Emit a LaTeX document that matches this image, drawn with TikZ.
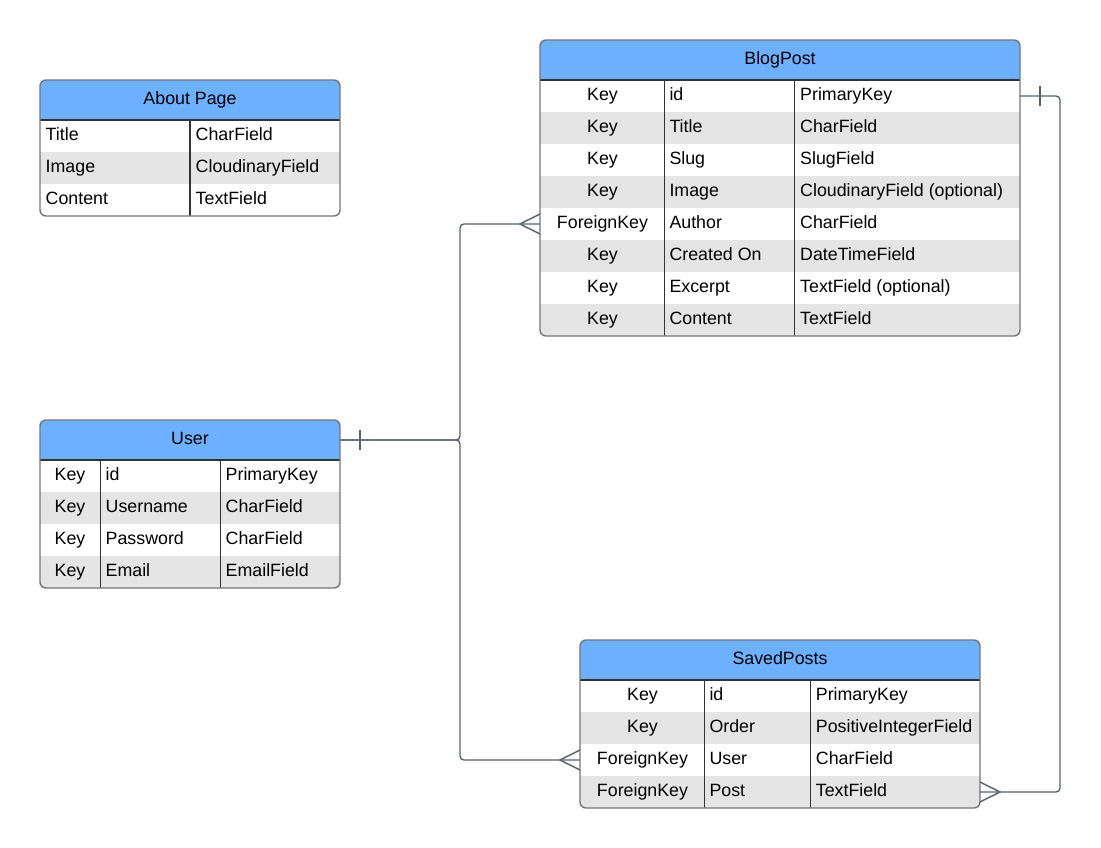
\documentclass[tikz,border=0pt]{standalone}
\usepackage{fontspec}
\setmainfont{Liberation Sans}
\usetikzlibrary{calc}
\definecolor{hdrblue}{RGB}{108,176,255}
\definecolor{rowgrey}{RGB}{229,229,229}
\definecolor{outlc}{RGB}{118,118,118}
\definecolor{divc}{RGB}{51,51,51}
\definecolor{connc}{RGB}{90,97,110}
\newcommand\erfont{\fontsize{17.8}{21}\selectfont}
\tikzset{
  hdrbox/.style={anchor=north west, fill=hdrblue, minimum height=40pt, inner sep=0pt, outer sep=0pt, font=\erfont, text height=8.8pt, text depth=0pt},
  rowbox/.style={anchor=north west, minimum height=32pt, inner sep=0pt, outer sep=0pt, draw=none},
  outl/.style={draw=outlc, line width=1.4pt},
  coldiv/.style={draw=divc, line width=1.2pt},
  cell/.style={anchor=base west, inner sep=0pt, font=\erfont},
  ccell/.style={anchor=base, inner sep=0pt, font=\erfont},
  conn/.style={draw=connc, line width=1.4pt, rounded corners=4pt},
  tick/.style={draw=connc, line width=1.4pt},
}
\newcommand\ertable[6]{%
  \begin{scope}
    \clip[rounded corners=6pt] (#2,#3) rectangle ++(#4,40+32*#5);
    \fill[white] (#2,#3) rectangle ++(#4,40+32*#5);
    \node[hdrbox, minimum width=#4pt] (#1) at (#2,#3) {#6};
    \foreach \r in {1,...,#5}{
      \pgfmathtruncatemacro\ry{#3+40+32*(\r-1)}
      \ifodd\r \def\rc{white}\else\def\rc{rowgrey}\fi
      \node[rowbox, minimum width=#4pt, fill=\rc] (#1-\r) at (#2,\ry) {};
    }
  \end{scope}
  \draw[divc, line width=1.2pt] (#1.south west) -- (#1.south east);
}
\newcommand\erframe[5]{%
  \draw[outl, rounded corners=6pt] (#2,#3) rectangle ++(#4,40+32*#5);
}
\begin{document}
\begin{tikzpicture}[x=1pt,y=-1pt]
\useasboundingbox (0,0) rectangle (1101,848);
\fill[white] (0,0) rectangle (1101,848);

% About Page
\ertable{ab}{40}{80}{300}{3}{About Page}
\draw[coldiv] (190,120) -- (190,216);
\foreach \r/\a/\b in {1/Title/CharField,2/Image/CloudinaryField,3/Content/TextField}{
  \node[cell] at ($(ab-\r.west)+(5.5,4.4)$) {\a};
  \node[cell] at ($(ab-\r.west)+(155.5,4.4)$) {\b};
}
\erframe{ab}{40}{80}{300}{3}

% BlogPost
\ertable{bp}{540}{40}{480}{8}{BlogPost}
\draw[coldiv] (664.5,80) -- (664.5,336);
\draw[coldiv] (794.5,80) -- (794.5,336);
\foreach \r/\a/\b/\c in {1/Key/id/PrimaryKey,2/Key/Title/CharField,3/Key/Slug/SlugField,4/Key/Image/CloudinaryField (optional),5/ForeignKey/Author/CharField,6/Key/Created On/DateTimeField,7/Key/Excerpt/TextField (optional),8/Key/Content/TextField}{
  \node[ccell] at ($(bp-\r.west)+(62.5,4.4)$) {\a};
  \node[cell] at ($(bp-\r.west)+(129.3,4.4)$) {\b};
  \node[cell] at ($(bp-\r.west)+(260,4.4)$) {\c};
}
\erframe{bp}{540}{40}{480}{8}

% User
\ertable{user}{40}{420}{300}{4}{User}
\draw[coldiv] (100.5,460) -- (100.5,588);
\draw[coldiv] (220.5,460) -- (220.5,588);
\foreach \r/\a/\b/\c in {1/Key/id/PrimaryKey,2/Key/Username/CharField,3/Key/Password/CharField,4/Key/Email/EmailField}{
  \node[ccell] at ($(user-\r.west)+(30,4.4)$) {\a};
  \node[cell] at ($(user-\r.west)+(65.5,4.4)$) {\b};
  \node[cell] at ($(user-\r.west)+(185.5,4.4)$) {\c};
}
\erframe{user}{40}{420}{300}{4}

% SavedPosts
\ertable{sp}{580}{640}{400}{4}{SavedPosts}
\draw[coldiv] (704.5,680) -- (704.5,808);
\draw[coldiv] (810.5,680) -- (810.5,808);
\foreach \r/\a/\b/\c in {1/Key/id/PrimaryKey,2/Key/Order/PositiveIntegerField,3/ForeignKey/User/CharField,4/ForeignKey/Post/TextField}{
  \node[ccell] at ($(sp-\r.west)+(62.5,4.4)$) {\a};
  \node[cell] at ($(sp-\r.west)+(129.3,4.4)$) {\b};
  \node[cell] at ($(sp-\r.west)+(235.7,4.4)$) {\c};
}
\erframe{sp}{580}{640}{400}{4}

% Connectors: User -> BlogPost, User -> SavedPosts
\coordinate (j1) at (460,440);
\draw[conn] (user.east) -- (j1) |- (bp-5.west);
\draw[conn] (user.east) -- (j1) |- (sp-3.west);
\draw[tick] ($(user.east)+(20,-10)$) -- ($(user.east)+(20,10)$);
\draw[tick] ($(bp-5.west)+(0,-10)$) -- ($(bp-5.west)+(-20,0)$) -- ($(bp-5.west)+(0,10)$);
\draw[tick] ($(sp-3.west)+(0,-10)$) -- ($(sp-3.west)+(-20,0)$) -- ($(sp-3.west)+(0,10)$);

% Connector: BlogPost -> SavedPosts
\draw[conn] (bp-1.east) -- ++(40,0) |- (sp-4.east);
\draw[tick] ($(bp-1.east)+(20,-10)$) -- ($(bp-1.east)+(20,10)$);
\draw[tick] ($(sp-4.east)+(0,-10)$) -- ($(sp-4.east)+(20,0)$) -- ($(sp-4.east)+(0,10)$);
\end{tikzpicture}
\end{document}
